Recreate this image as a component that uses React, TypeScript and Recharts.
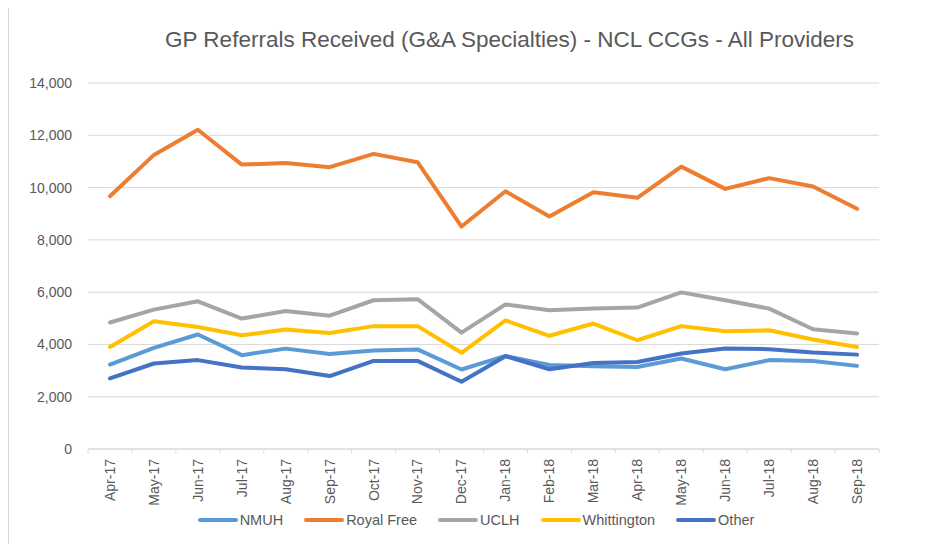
import React from "react";
import { LineChart, Line, XAxis, YAxis, CartesianGrid, Legend } from "recharts";

const months = ["Apr-17","May-17","Jun-17","Jul-17","Aug-17","Sep-17","Oct-17","Nov-17","Dec-17","Jan-18","Feb-18","Mar-18","Apr-18","May-18","Jun-18","Jul-18","Aug-18","Sep-18"];
const nmuh = [3230,3870,4380,3590,3840,3630,3770,3810,3040,3560,3210,3170,3140,3460,3050,3400,3370,3180];
const royalFree = [9670,11250,12210,10880,10940,10780,11290,10970,8510,9860,8890,9820,9610,10800,9950,10360,10040,9190];
const uclh = [4840,5330,5650,4990,5280,5100,5690,5730,4450,5530,5310,5370,5410,5990,5690,5370,4580,4420];
const whittington = [3900,4890,4670,4350,4570,4440,4700,4700,3680,4920,4330,4800,4160,4700,4500,4540,4190,3900];
const other = [2700,3270,3400,3120,3050,2790,3370,3370,2570,3550,3050,3290,3330,3650,3840,3820,3690,3610];
const yTicks = [0,2000,4000,6000,8000,10000,12000,14000];

const title = "GP Referrals Received (G&A Specialties) - NCL CCGs - All Providers";

const series = [
  { key: "NMUH", values: nmuh, color: "#5B9BD5" },
  { key: "Royal Free", values: royalFree, color: "#ED7D31" },
  { key: "UCLH", values: uclh, color: "#A5A5A5" },
  { key: "Whittington", values: whittington, color: "#FFC000" },
  { key: "Other", values: other, color: "#4472C4" },
];

const data = months.map((m, i) => {
  const row: any = { month: m };
  series.forEach((s) => { row[s.key] = s.values[i]; });
  return row;
});

const FONT = "'Liberation Sans', Arial, sans-serif";
const TEXT = "#595959";
const GRID = "#D9D9D9";

const XTick = (props: any) => {
  const { x, y, payload, index, visibleTicksCount, width } = props;
  const n = visibleTicksCount || months.length;
  const bw = (width || 791) / n;
  const axisY = y - 10;
  return (
    <g>
      <line x1={x - bw / 2} x2={x - bw / 2} y1={axisY} y2={axisY + 4} stroke={GRID} />
      {index === n - 1 && (
        <line x1={x + bw / 2} x2={x + bw / 2} y1={axisY} y2={axisY + 4} stroke={GRID} />
      )}
      <text
        x={x}
        y={y}
        transform={`rotate(-90, ${x}, ${y})`}
        textAnchor="end"
        dy="0.35em"
        fill={TEXT}
        fontSize={14}
        fontFamily={FONT}
      >
        {payload.value}
      </text>
    </g>
  );
};

const LegendContent = () => {
  return (
    <div style={{ display: "flex", justifyContent: "center", alignItems: "center", fontFamily: FONT, fontSize: 14.5, color: TEXT }}>
      {series.map((it, i) => (
        <div key={it.key} style={{ display: "flex", alignItems: "center", marginRight: i < series.length - 1 ? 21 : 0 }}>
          <div style={{ width: 40, height: 4, borderRadius: 2, background: it.color }} />
          <span style={{ marginLeft: 2 }}>{it.key}</span>
        </div>
      ))}
    </div>
  );
};

export default function App() {
  return (
    <div style={{ position: "relative", width: 922, height: 541, marginTop: -5, overflow: "hidden" }}>
      <div style={{ position: "absolute", left: 0, top: 0, width: 922, height: 541, borderTop: `1px solid ${GRID}`, borderLeft: `1px solid ${GRID}`, boxSizing: "border-box" }} />
      <div style={{ position: "absolute", left: 81, top: 26, width: 841, textAlign: "center", fontFamily: FONT, fontSize: 22.5, lineHeight: "22.5px", color: TEXT, whiteSpace: "nowrap" }}>
        {title}
      </div>
      <LineChart
        width={922}
        height={541}
        data={data}
        margin={{ top: 80, right: 51, bottom: 35, left: 20 }}
      >
        <CartesianGrid vertical={false} stroke={GRID} />
        <XAxis
          dataKey="month"
          scale="band"
          interval={0}
          height={60}
          tickLine={false}
          tickSize={4}
          tickMargin={6}
          axisLine={{ stroke: GRID }}
          tick={<XTick />}
        />
        <YAxis
          domain={[0, 14000]}
          ticks={yTicks}
          width={60}
          axisLine={false}
          tickLine={false}
          tickMargin={10}
          tick={{ fill: TEXT, fontSize: 14, fontFamily: FONT }}
          tickFormatter={(v: number) => v.toLocaleString("en-US")}
        />
        <Legend
          verticalAlign="middle"
          layout="horizontal"
          align="center"
          content={<LegendContent />}
          wrapperStyle={{ top: 509, left: 14, width: 908, height: 20 }}
        />
        {series.map((s) => (
          <Line
            key={s.key}
            type="linear"
            dataKey={s.key}
            stroke={s.color}
            strokeWidth={4}
            strokeLinecap="round"
            strokeLinejoin="round"
            dot={false}
            activeDot={false}
            isAnimationActive={false}
          />
        ))}
      </LineChart>
    </div>
  );
}
